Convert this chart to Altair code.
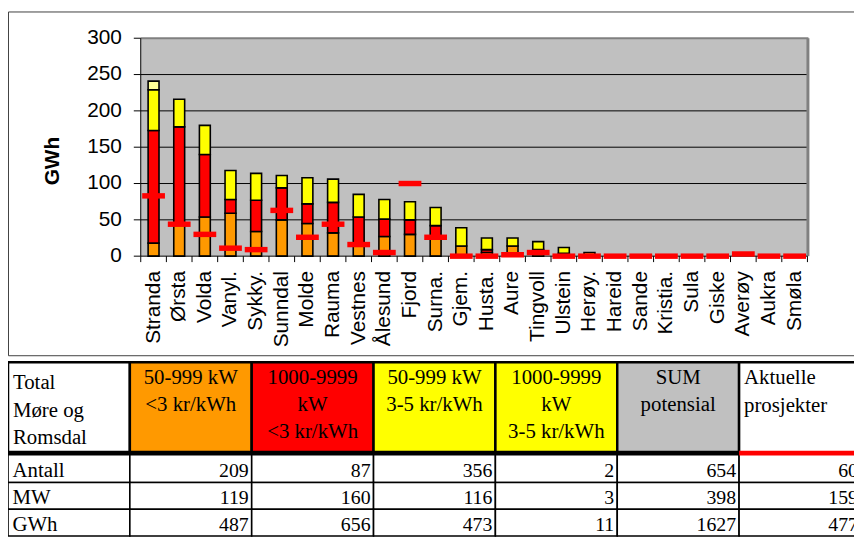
import altair as alt
import pandas as pd

# ---------------- data ----------------
cats = ["Stranda", "Ørsta", "Volda", "Vanyl.", "Sykky.", "Sunndal", "Molde", "Rauma",
        "Vestnes", "Ålesund", "Fjord", "Surna.", "Gjem.", "Husta.", "Aure", "Tingvoll",
        "Ulstein", "Herøy.", "Hareid", "Sande", "Kristia.", "Sula", "Giske", "Averøy",
        "Aukra", "Smøla"]
small_cheap = [18, 43, 54, 59, 34, 50, 45, 32, 15, 27, 30, 26, 14, 5, 14, 9, 4, 5, 0, 0, 0, 0, 0, 0, 0, 0]
large_cheap = [155, 135, 86, 19, 43, 44, 27, 42, 39, 24, 20, 16, 0, 4, 0, 0, 0, 0, 0, 0, 0, 0, 0, 0, 0, 0]
small_mid = [56, 38, 40, 40, 37, 17, 36, 32, 31, 27, 25, 25, 25, 16, 11, 11, 8, 0, 1, 0, 0, 0, 0, 0, 0, 0]
large_mid = [12, 0, 0, 0, 0, 0, 0, 0, 0, 0, 0, 0, 0, 0, 0, 0, 0, 0, 0, 0, 0, 0, 0, 0, 0, 0]
aktuelle = [83, 44, 30, 11, 9, 63, 26, 44, 16, 5, 100, 26, 0, 0, 2, 5, 0, 0, 0, 0, 0, 0, 0, 3, 0, 0]

seg_names = ["50-999 kW <3 kr/kWh", "1000-9999 kW <3 kr/kWh",
             "50-999 kW 3-5 kr/kWh", "1000-9999 kW 3-5 kr/kWh"]
seg_colors = ["#FF9900", "#FF0000", "#FFFF00", "#FFFF99"]
y_ticks = [0, 50, 100, 150, 200, 250, 300]
y_title = "GWh"

table_headers = ["Total\nMøre og\nRomsdal", "50-999 kW\n<3 kr/kWh", "1000-9999\nkW\n<3 kr/kWh",
                 "50-999 kW\n3-5 kr/kWh", "1000-9999\nkW\n3-5 kr/kWh", "SUM\npotensial",
                 "Aktuelle\nprosjekter"]
header_fills = ["#FFFFFF", "#FF9900", "#FF0000", "#FFFF00", "#FFFF00", "#C0C0C0", "#FFFFFF"]
row_labels = ["Antall", "MW", "GWh"]
row_antall = [209, 87, 356, 2, 654, 60]
row_mw = [119, 160, 116, 3, 398, 159]
row_gwh = [487, 656, 473, 11, 1627, 477]

# ---------------- layout (pixels / units) ----------------
W, H = 854, 531
PX0, PX1, PY0, PY1 = 134, 807, 248, 28       # plot area of the bar chart
row_edges = [0, 3.4, 4.5, 5.5, 6.5]          # table rows in row units
FONT = "Liberation Sans"
SERIF = "Liberation Serif"

# ---------------- frame ----------------
one = pd.DataFrame({"a": [0]})
frame = alt.Chart(one).mark_rect(fillOpacity=0, stroke="#404040", strokeWidth=1).encode(
    x=alt.value(0.5), x2=alt.value(900), y=alt.value(1.5), y2=alt.value(348.5))

# ---------------- bar chart ----------------
rows = []
for i, c in enumerate(cats):
    for k, vals in enumerate([small_cheap, large_cheap, small_mid, large_mid]):
        if vals[i] > 0:
            rows.append({"cat": c, "seg": seg_names[k], "k": k, "v": vals[i]})
bars_df = pd.DataFrame(rows)
mk_df = pd.DataFrame({"cat": cats, "v": aktuelle})
cat_df = pd.DataFrame({"cat": cats, "zero": [0] * len(cats)})
tick_df = pd.DataFrame({"v": y_ticks})
grid_df = pd.DataFrame({"v": y_ticks[1:-1]})
top_df = pd.DataFrame({"v": y_ticks[-1:]})

xs = alt.Scale(domain=cats, range=[PX0, PX1], paddingInner=0, paddingOuter=0)
ys = alt.Scale(domain=[0, 300], range=[PY0, PY1], nice=False, zero=True)

bg = alt.Chart(one).mark_rect(color="#C0C0C0").encode(
    x=alt.value(PX0), x2=alt.value(PX1), y=alt.value(PY1), y2=alt.value(PY0))
grid = alt.Chart(grid_df).mark_rule(color="black", strokeWidth=1).encode(
    y=alt.Y("v:Q", scale=ys, axis=None), x=alt.value(PX0), x2=alt.value(PX1))
top_border = alt.Chart(top_df).mark_rule(color="#808080", strokeWidth=2).encode(
    y=alt.Y("v:Q", scale=ys, axis=None), x=alt.value(PX0), x2=alt.value(PX1 + 1))
right_border = alt.Chart(one).mark_rule(color="#808080", strokeWidth=3).encode(
    x=alt.value(PX1 + 0.5), y=alt.value(PY1), y2=alt.value(PY0))

bars = alt.Chart(bars_df).mark_bar(width=11, stroke="black", strokeWidth=1.6).encode(
    x=alt.X("cat:N", scale=xs, sort=cats, axis=None),
    y=alt.Y("v:Q", stack="zero", scale=ys, axis=None),
    color=alt.Color("seg:N", scale=alt.Scale(domain=seg_names, range=seg_colors), legend=None),
    order=alt.Order("k:Q"),
)

# axes drawn from the same scales
y_axis_line = alt.Chart(one).mark_rule(color="black", strokeWidth=1).encode(
    x=alt.value(PX0), y=alt.value(PY1), y2=alt.value(PY0))
y_tick_marks = alt.Chart(tick_df).mark_rule(color="black", strokeWidth=1).encode(
    y=alt.Y("v:Q", scale=ys, axis=None), x=alt.value(PX0 - 7), x2=alt.value(PX0))
y_tick_labels = alt.Chart(tick_df).mark_text(
    align="right", baseline="middle", font=FONT, fontSize=21, color="black", dx=-19).encode(
    y=alt.Y("v:Q", scale=ys, axis=None), x=alt.value(PX0), text="v:Q")
y_title_mark = alt.Chart(pd.DataFrame({"t": [y_title]})).mark_text(
    angle=270, align="center", baseline="middle", font=FONT, fontSize=21,
    fontWeight="bold", color="black").encode(
    x=alt.value(45), y=alt.value(152), text="t:N")
x_axis_line = alt.Chart(one).mark_rule(color="black", strokeWidth=1).encode(
    y=alt.value(PY0), x=alt.value(PX0), x2=alt.value(PX1))
x_labels = alt.Chart(cat_df).mark_text(
    angle=270, align="right", baseline="middle", font=FONT, fontSize=21, color="black",
    dx=-15).encode(
    x=alt.X("cat:N", scale=xs, sort=cats, axis=None),
    y=alt.Y("zero:Q", scale=ys, axis=None), text="cat:N")

markers = alt.Chart(mk_df).mark_tick(color="#FF0000", size=23, thickness=5.5, opacity=1).encode(
    x=alt.X("cat:N", scale=xs, sort=cats, axis=None),
    y=alt.Y("v:Q", scale=ys, axis=None),
)
bar_group = alt.layer(bg, grid, top_border, right_border, bars,
                      y_axis_line, y_tick_marks, y_tick_labels, y_title_mark,
                      x_axis_line, x_labels, markers)

# category boundary ticks (between the bands)
bound_df = pd.DataFrame({"b": list(range(len(cats) + 1))})
bxs = alt.Scale(domain=[0, len(cats)], range=[PX0, PX1], nice=False, zero=False)
x_tick_marks = alt.Chart(bound_df).mark_rule(color="black", strokeWidth=1).encode(
    x=alt.X("b:Q", scale=bxs, axis=None), y=alt.value(PY0), y2=alt.value(PY0 + 6))

# ---------------- table ----------------
txs = alt.Scale(domain=[0, 7], range=[0, 861], nice=False, zero=False)
tys = alt.Scale(domain=[0, 6.5], range=[355, 530.5], nice=False, zero=False)

cells = []
for i in range(7):
    cells.append({"c0": i, "c1": i + 1, "r0": row_edges[0], "r1": row_edges[1],
                  "fill": header_fills[i], "sw": 2.5})
for j in range(3):
    for i in range(7):
        cells.append({"c0": i, "c1": i + 1, "r0": row_edges[j + 1], "r1": row_edges[j + 2],
                      "fill": "#FFFFFF", "sw": 1.6})
cells_df = pd.DataFrame(cells)
cell_layer = alt.Chart(cells_df).mark_rect(stroke="black").encode(
    x=alt.X("c0:Q", scale=txs, axis=None), x2="c1:Q",
    y=alt.Y("r0:Q", scale=tys, axis=None), y2="r1:Q",
    fill=alt.Fill("fill:N", scale=None),
    strokeWidth=alt.StrokeWidth("sw:Q", scale=None),
)
hline_df = pd.DataFrame({"x0": [0, 6], "x1": [6, 7], "y": [row_edges[1], row_edges[1]],
                         "col": ["black", "#FF0000"]})
hline = alt.Chart(hline_df).mark_rule(strokeWidth=5).encode(
    x=alt.X("x0:Q", scale=txs, axis=None), x2="x1:Q",
    y=alt.Y("y:Q", scale=tys, axis=None),
    color=alt.Color("col:N", scale=None),
)

hdr_df = pd.DataFrame({"c": list(range(7)), "t": table_headers,
                       "xc": [i + 0.5 for i in range(7)], "y": [0] * 7})
hdr_first = alt.Chart(hdr_df[hdr_df.c == 0]).mark_text(
    align="left", baseline="alphabetic", lineBreak="\n", lineHeight=28, font=SERIF,
    fontSize=21, dx=5, dy=27, color="black").encode(
    x=alt.X("c:Q", scale=txs, axis=None), y=alt.Y("y:Q", scale=tys, axis=None), text="t:N")
hdr_mid = alt.Chart(hdr_df[(hdr_df.c > 0) & (hdr_df.c < 6)]).mark_text(
    align="center", baseline="alphabetic", lineBreak="\n", lineHeight=27.5, font=SERIF,
    fontSize=21, dy=22, color="black").encode(
    x=alt.X("xc:Q", scale=txs, axis=None), y=alt.Y("y:Q", scale=tys, axis=None), text="t:N")
hdr_last = alt.Chart(hdr_df[hdr_df.c == 6]).mark_text(
    align="left", baseline="alphabetic", lineBreak="\n", lineHeight=27.5, font=SERIF,
    fontSize=21, dx=5, dy=22.5, color="black").encode(
    x=alt.X("c:Q", scale=txs, axis=None), y=alt.Y("y:Q", scale=tys, axis=None), text="t:N")

lab_df = pd.DataFrame({"t": row_labels, "x": [0, 0, 0], "y": row_edges[2:]})
lab_layer = alt.Chart(lab_df).mark_text(
    align="left", baseline="alphabetic", font=SERIF, fontSize=21, dx=4.5, dy=-5.5,
    color="black").encode(
    x=alt.X("x:Q", scale=txs, axis=None), y=alt.Y("y:Q", scale=tys, axis=None), text="t:N")

num_rows = []
for j, vals in enumerate([row_antall, row_mw, row_gwh]):
    for i, v in enumerate(vals):
        num_rows.append({"xr": i + 2, "y": row_edges[j + 2], "t": str(v)})
num_df = pd.DataFrame(num_rows)
num_layer = alt.Chart(num_df).mark_text(
    align="right", baseline="alphabetic", font=SERIF, fontSize=20, dx=-3, dy=-5.5,
    color="black").encode(
    x=alt.X("xr:Q", scale=txs, axis=None), y=alt.Y("y:Q", scale=tys, axis=None), text="t:N")

table_group = alt.layer(cell_layer, hline, hdr_first, hdr_mid, hdr_last, lab_layer, num_layer)

chart = alt.layer(frame, bar_group, x_tick_marks, table_group).resolve_scale(
    x="independent", y="independent", color="independent"
).properties(
    width=W, height=H, autosize=alt.AutoSizeParams(type="none"), padding=0
).configure_view(stroke=None)

chart.save("out.html", embed_options={"renderer": "svg", "actions": False})
